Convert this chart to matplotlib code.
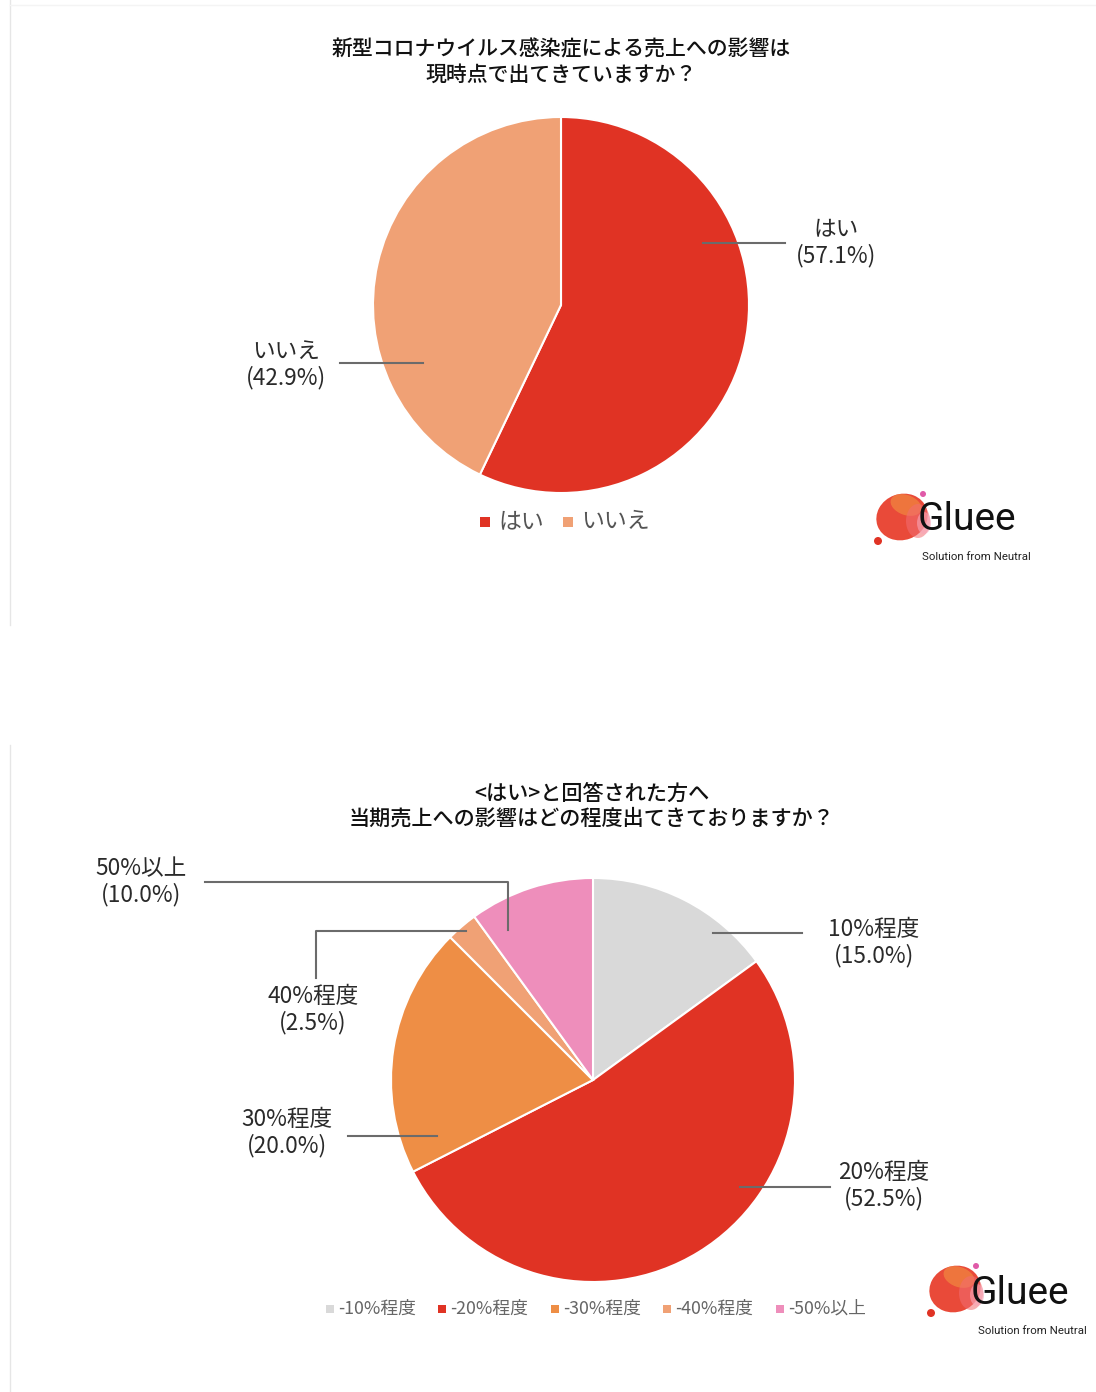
import matplotlib
matplotlib.use("Agg")
import matplotlib.pyplot as plt
from matplotlib.patches import Circle, Ellipse, Rectangle

plt.rcParams['font.family'] = ['Noto Sans CJK JP', 'DejaVu Sans']

# ---------------- data ----------------
title1 = "新型コロナウイルス感染症による売上への影響は\n現時点で出てきていますか？"
labels1 = ["はい", "いいえ"]
values1 = [57.1, 42.9]
colors1 = ["#E03324", "#F0A175"]

title2 = "<はい>と回答された方へ\n当期売上への影響はどの程度出てきておりますか？"
labels2 = ["10%程度", "20%程度", "30%程度", "40%程度", "50%以上"]
legend2 = ["-10%程度", "-20%程度", "-30%程度", "-40%程度", "-50%以上"]
values2 = [15.0, 52.5, 20.0, 2.5, 10.0]
colors2 = ["#D9D9D9", "#E03324", "#EE8E45", "#F0A175", "#EE8EBB"]

W, H = 1096, 1392
fig = plt.figure(figsize=(W / 100, H / 100), dpi=100)
ax = fig.add_axes([0, 0, 1, 1])

def Y(y):
    return H - y

TXT = "#2a2a2a"
LINE = "#6b6b6b"
LFS = 16.3

# ---------------- pie 1 ----------------
c1 = (561, Y(305)); r1 = 188
ax.pie(values1, colors=colors1, startangle=90, counterclock=False,
       center=c1, radius=r1, wedgeprops=dict(edgecolor="white", linewidth=1.5))
ax.text(561, Y(62), title1, ha="center", va="center", fontsize=15.0,
        color="#111111", linespacing=1.15, fontweight="medium")

lab1 = [f"{l}\n({v:.1f}%)" for l, v in zip(labels1, values1)]
ax.plot([703, 785], [Y(243), Y(243)], color=LINE, lw=1.5)
ax.text(836, Y(243), lab1[0], ha="center", va="center", fontsize=LFS, color=TXT, linespacing=1.15)
ax.plot([340, 423], [Y(363), Y(363)], color=LINE, lw=1.5)
ax.text(286, Y(365), lab1[1], ha="center", va="center", fontsize=LFS, color=TXT, linespacing=1.15)

# legend 1
lx = [485, 568]
for i, (l, c) in enumerate(zip(labels1, colors1)):
    ax.add_patch(Rectangle((lx[i] - 5, Y(522) - 5), 10, 10, color=c, lw=0))
    ax.text(lx[i] + 13, Y(522), l, ha="left", va="center", fontsize=16.5, color="#555555")

# ---------------- pie 2 ----------------
c2 = (593, Y(1080)); r2 = 202
ax.pie(values2, colors=colors2, startangle=90, counterclock=False,
       center=c2, radius=r2, wedgeprops=dict(edgecolor="white", linewidth=1.5))
ax.text(592, Y(806), title2, ha="center", va="center", fontsize=15.2,
        color="#111111", linespacing=1.15, fontweight="medium")

lab2 = [f"{l}\n({v:.1f}%)" for l, v in zip(labels2, values2)]
# 10%
ax.plot([713, 802], [Y(933), Y(933)], color=LINE, lw=1.5)
ax.text(874, Y(943), lab2[0], ha="center", va="center", fontsize=LFS, color=TXT, linespacing=1.15)
# 20%
ax.plot([740, 830], [Y(1187), Y(1187)], color=LINE, lw=1.5)
ax.text(884, Y(1186), lab2[1], ha="center", va="center", fontsize=LFS, color=TXT, linespacing=1.15)
# 30%
ax.plot([348, 437], [Y(1136), Y(1136)], color=LINE, lw=1.5)
ax.text(287, Y(1133), lab2[2], ha="center", va="center", fontsize=LFS, color=TXT, linespacing=1.15)
# 40%
ax.plot([466, 316, 316], [Y(931), Y(931), Y(978)], color=LINE, lw=1.5)
ax.text(313, Y(1010), lab2[3], ha="center", va="center", fontsize=LFS, color=TXT, linespacing=1.15)
# 50%
ax.plot([205, 508, 508], [Y(882), Y(882), Y(930)], color=LINE, lw=1.5)
ax.text(141, Y(882), lab2[4], ha="center", va="center", fontsize=LFS, color=TXT, linespacing=1.15)

# legend 2
lx2 = [330, 442, 555, 667, 780]
for i, (l, c) in enumerate(zip(legend2, colors2)):
    ax.add_patch(Rectangle((lx2[i] - 4, Y(1309) - 4), 8, 8, color=c, lw=0))
    ax.text(lx2[i] + 8, Y(1309), l, ha="left", va="center", fontsize=12.8, color="#666666")

# ---------------- logos ----------------
def logo(x, y, tx, ty, sx, sy):
    ax.add_patch(Ellipse((x, Y(y)), 52, 46, angle=20, color="#E8402E", lw=0, alpha=0.95))
    ax.add_patch(Ellipse((x + 4, Y(y - 12)), 32, 20, angle=-20, color="#F0813F", lw=0, alpha=0.8))
    ax.add_patch(Ellipse((x + 16, Y(y + 4)), 24, 34, color="#F26D72", lw=0, alpha=0.55))
    ax.add_patch(Ellipse((x + 22, Y(y + 6)), 14, 22, color="#F7A5B8", lw=0, alpha=0.6))
    ax.add_patch(Circle((x + 21, Y(y - 23)), 3, color="#E05AA8", lw=0))
    ax.add_patch(Circle((x - 24, Y(y + 24)), 4, color="#E03324", lw=0))
    ax.text(tx, Y(ty), "Gluee", ha="left", va="center", fontsize=28,
            family="Roboto", color="#111111")
    ax.text(sx, Y(sy), "Solution from Neutral", ha="center", va="center",
            fontsize=8.2, family="Roboto", color="#222222")

logo(902, 517, 918, 520, 976, 557)
logo(955, 1289, 971, 1293, 1032, 1331)

# faint frame lines
ax.plot([10, 10], [Y(0), Y(625)], color="#e6e6e6", lw=1)
ax.plot([10, 10], [Y(745), Y(1392)], color="#e6e6e6", lw=1)
ax.plot([10, 1096], [Y(5), Y(5)], color="#f4f4f4", lw=1)

ax.set_xlim(0, W)
ax.set_ylim(0, H)
ax.set_aspect("auto")
ax.axis("off")
fig.savefig("out.png", dpi=100, facecolor="white")
